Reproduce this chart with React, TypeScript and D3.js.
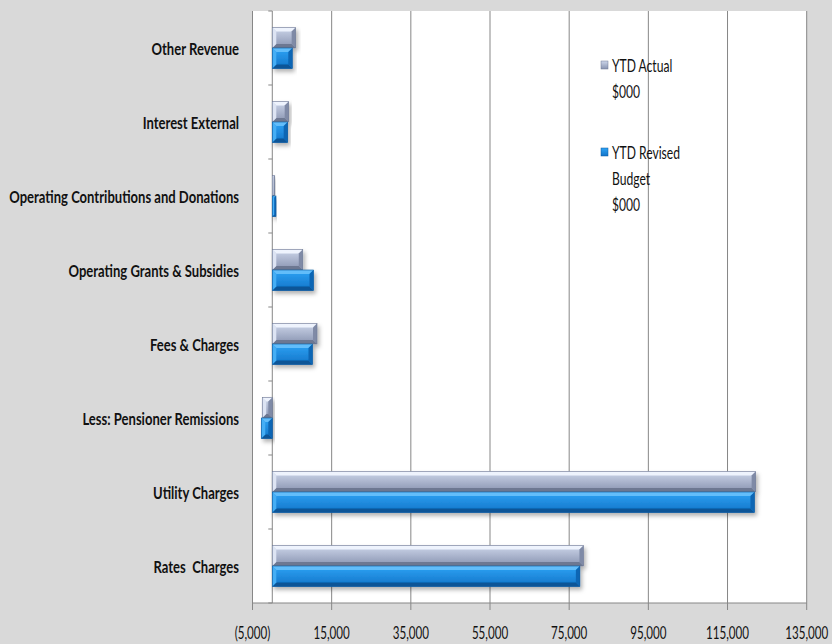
import React, { useLayoutEffect, useRef, useState } from "react";
import * as d3 from "d3";

// Revenue categories, listed top to bottom as they appear on the chart
const categories = [
  "Other Revenue",
  "Interest External",
  "Operating Contributions and Donations",
  "Operating Grants & Subsidies",
  "Fees & Charges",
  "Less: Pensioner Remissions",
  "Utility Charges",
  "Rates  Charges",
];

// $000 values per category
const ytdActual = [5900, 4140, 600, 7700, 11300, -2530, 122100, 78600];
const ytdRevisedBudget = [5050, 3890, 930, 10400, 10150, -2780, 121800, 77700];

const xTicks = [-5000, 15000, 35000, 55000, 75000, 95000, 115000, 135000];

const seriesNames = ["YTD Actual", "YTD Revised Budget"];
const legendLines = [["YTD Actual", "$000"], ["YTD Revised", "Budget", "$000"]];

const W = 832;
const H = 644;
const plot = { left: 252.5, right: 806.7, top: 11, bottom: 603 };
const FONT = "Lato, 'Open Sans', sans-serif";
const FS = 17.5;

// widths the narrow typeface should occupy for a few reference strings
const LONG_LABEL_WIDTH = 230;
const TICK_LABEL_WIDTH = 43;
const LEGEND_LABEL_WIDTH = 68;

type Pal = {
  faceTop: string;
  faceBottom: string;
  top: string;
  bottom: string;
  side: string;
  near: string;
  stroke: string;
};

const palettes: Pal[] = [
  {
    faceTop: "#cdd6ea",
    faceBottom: "#8893b0",
    top: "#eef3fd",
    bottom: "#6d7892",
    side: "#7f8aa6",
    near: "#dde4f3",
    stroke: "#6f7a95",
  },
  {
    faceTop: "#2ea3f5",
    faceBottom: "#1274c8",
    top: "#62bdfa",
    bottom: "#0a5497",
    side: "#0d66b4",
    near: "#45aef5",
    stroke: "#0b5aa0",
  },
];

function BevelBar({ x0, x1, y, h, pal, id }: { x0: number; x1: number; y: number; h: number; pal: Pal; id: string }) {
  const left = Math.min(x0, x1);
  const right = Math.max(x0, x1);
  const w = right - left;
  const b = Math.min(4, w / 2, h / 2);
  const t = y;
  const bt = y + h;
  const pts = (arr: number[][]) => arr.map((p) => p.join(",")).join(" ");
  return (
    <g filter="url(#barShadow)">
      <rect x={left} y={t} width={w} height={h} fill={`url(#face${id})`} />
      <polygon points={pts([[left, t], [right, t], [right - b, t + b], [left + b, t + b]])} fill={pal.top} />
      <polygon points={pts([[left, bt], [right, bt], [right - b, bt - b], [left + b, bt - b]])} fill={pal.bottom} />
      <polygon points={pts([[right, t], [right, bt], [right - b, bt - b], [right - b, t + b]])} fill={pal.side} />
      <polygon points={pts([[left, t], [left, bt], [left + b, bt - b], [left + b, t + b]])} fill={pal.near} />
      <rect x={left} y={t} width={w} height={h} fill="none" stroke={pal.stroke} strokeWidth={0.6} />
    </g>
  );
}

export default function App() {
  const longRef = useRef<SVGTextElement>(null);
  const tickRef = useRef<SVGTextElement>(null);
  const legRef = useRef<SVGTextElement>(null);
  const [sx, setSx] = useState({ label: 1, tick: 1, legend: 1 });

  useLayoutEffect(() => {
    const m = (r: React.RefObject<SVGTextElement>, target: number) => {
      const len = r.current ? r.current.getComputedTextLength() : 0;
      return len > 0 ? target / len : 1;
    };
    setSx({
      label: m(longRef, LONG_LABEL_WIDTH),
      tick: m(tickRef, TICK_LABEL_WIDTH),
      legend: m(legRef, LEGEND_LABEL_WIDTH),
    });
  }, []);

  const x = d3.scaleLinear().domain([-5000, 135000]).range([plot.left, plot.right]);
  const y = d3
    .scaleBand<string>()
    .domain(categories)
    .range([plot.top, plot.bottom])
    .paddingInner(0.446)
    .paddingOuter(0.223);
  const ySub = d3.scaleBand<number>().domain([0, 1]).range([0, y.bandwidth()]);
  const series = [ytdActual, ytdRevisedBudget];
  const step = y.step();
  const boundaries = d3.range(categories.length + 1).map((i) => plot.top + i * step);
  const fmt = (v: number) => (v < 0 ? `(${d3.format(",")(-v)})` : d3.format(",")(v));

  return (
    <svg width={W} height={H} style={{ position: "absolute", left: 0, top: 0 }} fontFamily={FONT}>
      <defs>
        {palettes.map((p, i) => (
          <linearGradient key={i} id={`face${i}`} x1="0" y1="0" x2="0" y2="1">
            <stop offset="0" stopColor={p.faceTop} />
            <stop offset="1" stopColor={p.faceBottom} />
          </linearGradient>
        ))}
        <filter id="barShadow" x="-10%" y="-30%" width="130%" height="180%">
          <feDropShadow dx="2" dy="3" stdDeviation="2" floodColor="#000" floodOpacity="0.3" />
        </filter>
      </defs>
      <rect width={W} height={H} fill="#d9d9d9" />
      <rect x={plot.left} y={plot.top} width={plot.right - plot.left} height={plot.bottom - plot.top} fill="#fff" />

      {/* hidden strings used to size the condensed text */}
      <g visibility="hidden">
        <text ref={longRef} fontSize={FS} fontWeight="bold">
          {categories[2]}
        </text>
        <text ref={tickRef} fontSize={FS}>
          {fmt(135000)}
        </text>
        <text ref={legRef} fontSize={FS}>
          {legendLines[1][0]}
        </text>
      </g>

      {/* vertical gridlines */}
      {xTicks.map((t) => (
        <line key={t} x1={x(t)} x2={x(t)} y1={plot.top} y2={plot.bottom + 7} stroke="#878787" strokeWidth={1} />
      ))}

      {/* category axis at zero */}
      <line x1={x(0)} x2={x(0)} y1={plot.top} y2={plot.bottom} stroke="#878787" />
      {boundaries.map((b, i) => (
        <line key={i} x1={x(0) - 4} x2={x(0)} y1={b} y2={b} stroke="#878787" />
      ))}
      <line x1={plot.left} x2={plot.right} y1={plot.bottom} y2={plot.bottom} stroke="#878787" />

      {/* bars */}
      {categories.map((c, ci) =>
        series.map((vals, si) => (
          <BevelBar
            key={`${c}-${si}`}
            x0={x(0)}
            x1={x(vals[ci])}
            y={(y(c) ?? 0) + (ySub(si) ?? 0)}
            h={ySub.bandwidth()}
            pal={palettes[si]}
            id={String(si)}
          />
        ))
      )}

      {/* category labels */}
      {categories.map((c) => (
        <g key={c} transform={`translate(239,${(y(c) ?? 0) + y.bandwidth() / 2}) scale(${sx.label},1)`}>
          <text
            textAnchor="end"
            dominantBaseline="central"
            fontWeight="bold"
            fontSize={FS}
            fill="#111"
            style={{ whiteSpace: "pre" }}
          >
            {c}
          </text>
        </g>
      ))}

      {/* value axis labels */}
      {xTicks.map((t) => (
        <g key={t} transform={`translate(${x(t)},632) scale(${sx.tick},1)`}>
          <text textAnchor="middle" dominantBaseline="central" fontSize={FS} fill="#111">
            {fmt(t)}
          </text>
        </g>
      ))}

      {/* legend */}
      {legendLines.map((lines, li) => {
        const top = li === 0 ? 65 : 152;
        return (
          <g key={seriesNames[li]}>
            <rect x={601} y={top - 4} width={7} height={8} fill={`url(#face${li})`} stroke={palettes[li].stroke} strokeWidth={0.5} />
            {lines.map((ln, k) => (
              <g key={k} transform={`translate(612,${top + k * 26}) scale(${sx.legend},1)`}>
                <text dominantBaseline="central" fontSize={FS} fill="#111">
                  {ln}
                </text>
              </g>
            ))}
          </g>
        );
      })}
    </svg>
  );
}
